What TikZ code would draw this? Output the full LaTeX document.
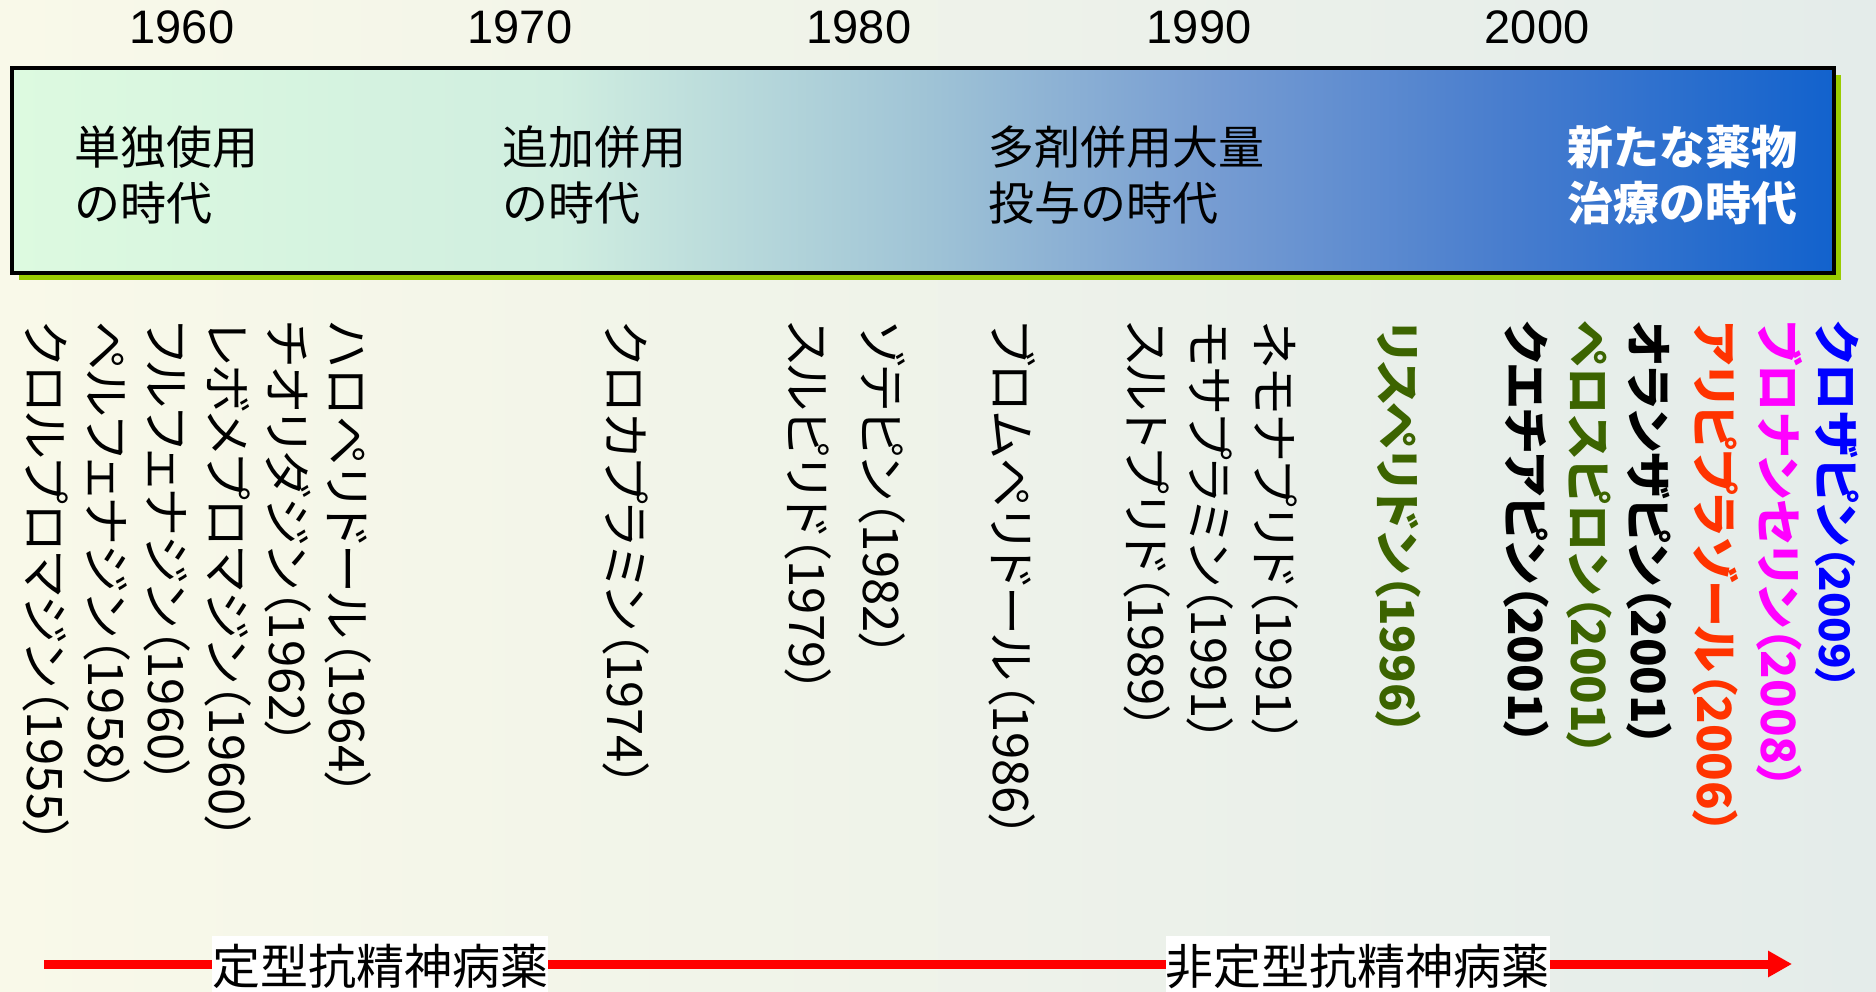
\documentclass[tikz,border=0pt]{standalone}
\usepackage{fontspec}
\setmainfont{Liberation Sans}
\newfontfamily\jp{Noto Sans CJK JP}
\newfontfamily\jpp[RawFeature=+palt]{Noto Sans CJK JP}
\usetikzlibrary{arrows.meta}
\definecolor{bgL}{RGB}{249,249,233}
\definecolor{bgR}{RGB}{228,236,234}
\definecolor{ga}{RGB}{221,250,224}
\definecolor{gb}{RGB}{208,238,224}
\definecolor{gc}{RGB}{160,196,214}
\definecolor{gd}{RGB}{118,156,210}
\definecolor{ge}{RGB}{72,125,206}
\definecolor{gf}{RGB}{18,98,205}
\definecolor{shadowgreen}{RGB}{153,204,0}
\definecolor{olivegreen}{RGB}{60,100,0}
\definecolor{orangered}{RGB}{255,51,0}
\definecolor{pinkmag}{RGB}{255,0,255}
\definecolor{pureblue}{RGB}{0,0,255}
\definecolor{purered}{RGB}{255,0,0}
\pgfdeclarehorizontalshading{eraShade}{100bp}{color(0bp)=(ga); color(25bp)=(ga); color(40bp)=(gb); color(50bp)=(gc); color(58bp)=(gd); color(66bp)=(ge); color(75bp)=(gf); color(100bp)=(gf)}
\tikzset{
  year/.style={font=\fontsize{47}{56}\selectfont, anchor=base, inner sep=0pt},
  era/.style={font=\jp\fontsize{46}{56}\selectfont, align=left, anchor=west, inner sep=0pt},
  drug/.style={font=\jpp\fontsize{49}{56}\selectfont, rotate=-90, anchor=west, inner sep=0pt},
  newdrug/.style={drug, font=\jpp\bfseries\fontsize{47}{56}\selectfont},
  classlabel/.style={font=\jp\fontsize{48}{56}\selectfont, fill=white, inner xsep=0pt, inner ysep=0pt, minimum height=60pt},
}
\begin{document}
\begin{tikzpicture}[x=1pt, y=-1pt]
\useasboundingbox (0,0) rectangle (1876,992);
\shade[left color=bgL, right color=bgR] (0,0) rectangle (1876,992);
% years
\node[year] (y1960) at (182,44) {1960};
\node[year] (y1970) at (520,44) {1970};
\node[year] (y1980) at (859,44) {1980};
\node[year] (y1990) at (1199,44) {1990};
\node[year] (y2000) at (1537,44) {2000};
% era box
\fill[shadowgreen] (19,75) rectangle (1841,280);
\shade[shading=eraShade] (12,68) rectangle (1834,273);
\draw[line width=4pt] (12,68) rectangle (1834,273);
\node[era] (e1) at (74,175) {単独使用\\の時代};
\node[era] (e2) at (502,175) {追加併用\\の時代};
\node[era] (e3) at (988,175) {多剤併用大量\\投与の時代};
\node[era, text=white, font=\jp\bfseries\fontsize{46}{56}\selectfont] (e4) at (1567,175) {新たな薬物\\治療の時代};
% drugs
\node[drug] (d1) at (46,321) {クロルプロマジン（1955）};
\node[drug] (d2) at (107,321) {ペルフェナジン（1958）};
\node[drug] (d3) at (167,321) {フルフェナジン（1960）};
\node[drug] (d4) at (228,321) {レボメプロマジン（1960）};
\node[drug] (d5) at (288,321) {チオリダジン（1962）};
\node[drug] (d6) at (348,321) {ハロペリドール（1964）};
\node[drug] (d7) at (626,321) {クロカプラミン（1974）};
\node[drug] (d8) at (808,321) {スルピリド（1979）};
\node[drug] (d9) at (882,321) {ゾテピン（1982）};
\node[drug] (d10) at (1012,321) {ブロムペリドール（1986）};
\node[drug] (d11) at (1147,321) {スルトプリド（1989）};
\node[drug] (d12) at (1210,321) {モサプラミン（1991）};
\node[drug] (d13) at (1275,321) {ネモナプリド（1991）};
\node[newdrug, text=olivegreen] (d14) at (1398,321) {リスペリドン（1996）};
\node[newdrug] (d15) at (1526,321) {クエチアピン（2001）};
\node[newdrug, text=olivegreen] (d16) at (1589,321) {ペロスピロン（2001）};
\node[newdrug] (d17) at (1649,321) {オランザピン（2001）};
\node[newdrug, text=orangered] (d18) at (1716,321) {アリピプラゾール（2006）};
\node[newdrug, text=pinkmag] (d19) at (1780,321) {ブロナンセリン（2008）};
\node[newdrug, text=pureblue] (d20) at (1837,321) {クロザピン{\fontsize{42}{46}\selectfont（2009）}};
% bottom arrow
\coordinate (arrS) at (44,964);
\coordinate (arrE) at (1792,964);
\draw[purered, line width=9pt, -{Triangle[length=24pt, width=25pt]}] (arrS) -- (arrE);
\node[classlabel] (typ) at (380,966) {定型抗精神病薬};
\node[classlabel] (atyp) at (1357.5,966) {非定型抗精神病薬};
\end{tikzpicture}
\end{document}
